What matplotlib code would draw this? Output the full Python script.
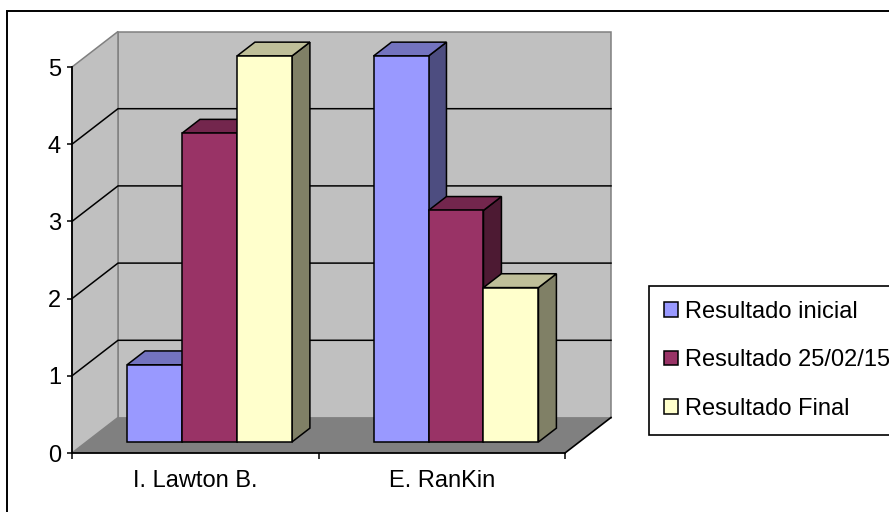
import matplotlib.pyplot as plt
from matplotlib.patches import Polygon, Rectangle
from matplotlib.colors import to_rgb

plt.rcParams['font.family'] = ['Liberation Sans', 'DejaVu Sans']

# data
categories = ['I. Lawton B.', 'E. RanKin']
series_names = ['Resultado inicial', 'Resultado 25/02/15', 'Resultado Final']
resultado_inicial = [1, 5]
resultado_2502 = [4, 3]
resultado_final = [5, 2]
series = [resultado_inicial, resultado_2502, resultado_final]
colors = ['#9999ff', '#993366', '#ffffcc']


def shade(c, k):
    r, g, b = to_rgb(c)
    return (r * k, g * k, b * k)


W, H = 889, 512
fig = plt.figure(figsize=(W / 100, H / 100), dpi=100)
ax = fig.add_axes([72 / W, 59 / H, 493 / W, 386 / H])
ax.set_xlim(0, len(categories))
ax.set_ylim(0, 5)
ax.patch.set_visible(False)

# oblique depth of the 3d box, in pixels
depth_px = (46, 35.5)
ux = ax.bbox.width / len(categories)
uy = ax.bbox.height / 5


def shift(x, y, f):
    return (x + f * depth_px[0] / ux, y + f * depth_px[1] / uy)


ncat = len(categories)
ymax = 5

# walls and floor
back = [shift(0, 0, 1), shift(ncat, 0, 1), shift(ncat, ymax, 1), shift(0, ymax, 1)]
ax.add_patch(Polygon(back, closed=True, facecolor='#c0c0c0', edgecolor='#808080',
                     lw=1.1, clip_on=False, zorder=0.5))
side = [(0, 0), shift(0, 0, 1), shift(0, ymax, 1), (0, ymax)]
ax.add_patch(Polygon(side, closed=True, facecolor='#c0c0c0', edgecolor='#808080',
                     lw=1.1, clip_on=False, zorder=0.6))
floor = [(0, 0), (ncat, 0), shift(ncat, 0, 1), shift(0, 0, 1)]
ax.add_patch(Polygon(floor, closed=True, facecolor='#808080', edgecolor='none',
                     clip_on=False, zorder=0.7))
fx, fy = zip((ncat, 0), shift(ncat, 0, 1))
ax.plot(fx, fy, color='black', lw=1.2, clip_on=False, zorder=1)

# gridlines along side wall and back wall
for v in range(1, ymax):
    pts = [(0, v), shift(0, v, 1), shift(ncat, v, 1)]
    gx, gy = zip(*pts)
    ax.plot(gx, gy, color='black', lw=1.1, clip_on=False, zorder=1)

# bars
bw = 0.223
f0, f1 = 0.31, 0.70
handles = []
for i in range(ncat):
    for k, vals in enumerate(series):
        v = vals[i]
        x0 = i + 0.5 + (k - 1) * bw - bw / 2
        x1 = x0 + bw
        face = [shift(x1, 0, f0), shift(x1, 0, f1), shift(x1, v, f1), shift(x1, v, f0)]
        ax.add_patch(Polygon(face, closed=True, facecolor=shade(colors[k], 0.5),
                             edgecolor='black', lw=1.1, clip_on=False, zorder=3))
        top = [shift(x0, v, f0), shift(x1, v, f0), shift(x1, v, f1), shift(x0, v, f1)]
        ax.add_patch(Polygon(top, closed=True, facecolor=shade(colors[k], 0.75),
                             edgecolor='black', lw=1.1, clip_on=False, zorder=3))
        xl, yb = shift(x0, 0, f0)
        b = ax.bar(xl, v, bw, bottom=yb, align='edge', color=colors[k],
                   edgecolor='black', lw=1.1, clip_on=False, zorder=3,
                   label=series_names[k] if i == 0 else None)
        if i == 0:
            handles.append(b)

# axes
for s in ['top', 'right']:
    ax.spines[s].set_visible(False)
ax.spines['left'].set_linewidth(1.3)
ax.spines['bottom'].set_linewidth(1.3)
ax.spines['left'].set_zorder(2)
ax.spines['bottom'].set_zorder(2)

ax.set_yticks(range(ymax + 1))
ax.tick_params(axis='y', direction='out', length=3.5, width=1.1, pad=4.5, labelsize=17)
ax.set_xticks(range(ncat + 1))
ax.set_xticklabels([])
ax.set_xticks([i + 0.5 for i in range(ncat)], minor=True)
ax.set_xticklabels(categories, minor=True)
ax.tick_params(axis='x', which='major', direction='out', length=4, width=1.1)
ax.tick_params(axis='x', which='minor', length=0, pad=12, labelsize=17)

leg = fig.legend(handles=handles, labels=series_names, loc='upper left',
                 bbox_to_anchor=(649 / W, 1 - 286 / H), bbox_transform=fig.transFigure,
                 borderaxespad=0, fontsize=17, frameon=True, fancybox=False,
                 framealpha=1, edgecolor='black', handlelength=0.6, handleheight=0.6,
                 handletextpad=0.3, labelspacing=1.13, borderpad=0.62)
leg.get_frame().set_linewidth(1.2)

# chart border
fig.add_artist(Rectangle((7 / W, -0.1), 1.2, 1.1 - 11 / H, transform=fig.transFigure,
                         fill=False, edgecolor='black', lw=1.4))

fig.savefig('out.png', dpi=100)
